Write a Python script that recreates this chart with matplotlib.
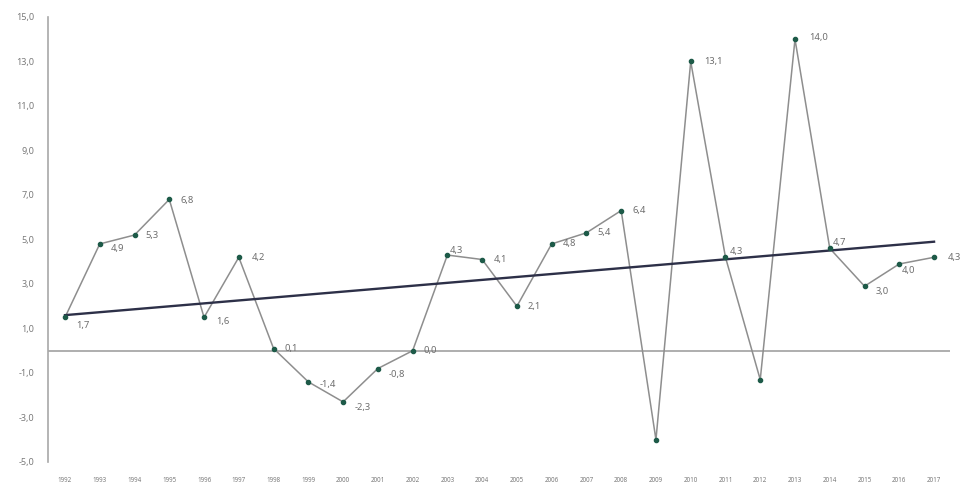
import numpy as np
import matplotlib.pyplot as plt

years = list(range(1992, 2018))
year_labels = [str(y) for y in years]
values = [1.5, 4.8, 5.2, 6.8, 1.5, 4.2, 0.1, -1.4, -2.3, -0.8, 0.0, 4.3, 4.1, 2.0,
          4.8, 5.3, 6.3, -4.0, 13.0, 4.2, -1.3, 14.0, 4.6, 2.9, 3.9, 4.2]
labels = ["1,7", "4,9", "5,3", "6,8", "1,6", "4,2", "0,1", "-1,4", "-2,3", "-0,8", "0,0",
          "4,3", "4,1", "2,1", "4,8", "5,4", "6,4", None, "13,1", "4,3", None, "14,0",
          "4,7", "3,0", "4,0", "4,3"]
trend_years = [1992, 2017]
trend_values = [1.6, 4.9]
yticks = [-5, -3, -1, 1, 3, 5, 7, 9, 11, 13, 15]

# label offsets in points (dx, dy)
offsets = {0: (8, -6), 1: (8, -3), 2: (8, 0), 3: (8, -1), 4: (9, -3), 5: (9, 0),
           6: (8, 0), 7: (8, -2), 8: (8, -4), 9: (8, -4), 10: (8, 0), 11: (2, 3),
           12: (8, 0), 13: (8, 0), 14: (8, 0), 15: (8, 0), 16: (8, 0), 18: (10, 0),
           19: (3, 4), 21: (10, 1), 22: (2, 4), 23: (8, -4), 24: (2, -5), 25: (10, 0)}

plt.rcParams['font.family'] = ['Noto Sans', 'DejaVu Sans']

fig = plt.figure(figsize=(9.65, 4.84), dpi=100)
ax = fig.add_axes([0.0497, 0.0455, 0.9348, 0.9194])

ax.axhline(0, color='#a8a8a8', lw=1.3, zorder=1)
ax.plot(trend_years, trend_values, color='#2d3048', lw=1.7, zorder=3)
ax.plot(years, values, color='#8e8e8e', lw=1.1, zorder=2)
ax.scatter(years, values, s=9, color='#1d5a48', zorder=4)

for i, (x, v, lab) in enumerate(zip(years, values, labels)):
    if lab is None:
        continue
    dx, dy = offsets.get(i, (8, 0))
    ax.annotate(lab, (x, v), xytext=(dx, dy), textcoords='offset points',
                fontsize=6.8, color='#6e6e6e', va='center', ha='left')

ax.set_xlim(1991.51, 2017.46)
ax.set_ylim(-5, 15)
ax.set_yticks(yticks)
ax.set_yticklabels([f"{t:.1f}".replace('.', ',') for t in yticks], fontsize=6.5, color='#7a7a7a')
ax.set_xticks(years)
ax.set_xticklabels(year_labels, fontsize=4.5, color='#7a7a7a')
ax.tick_params(axis='both', length=0)
ax.tick_params(axis='y', pad=10)
ax.tick_params(axis='x', pad=11)

for side in ['top', 'right', 'bottom']:
    ax.spines[side].set_visible(False)
ax.spines['left'].set_color('#a8a8a8')
ax.spines['left'].set_linewidth(1.2)

fig.savefig('out.png', dpi=100, facecolor='white')
